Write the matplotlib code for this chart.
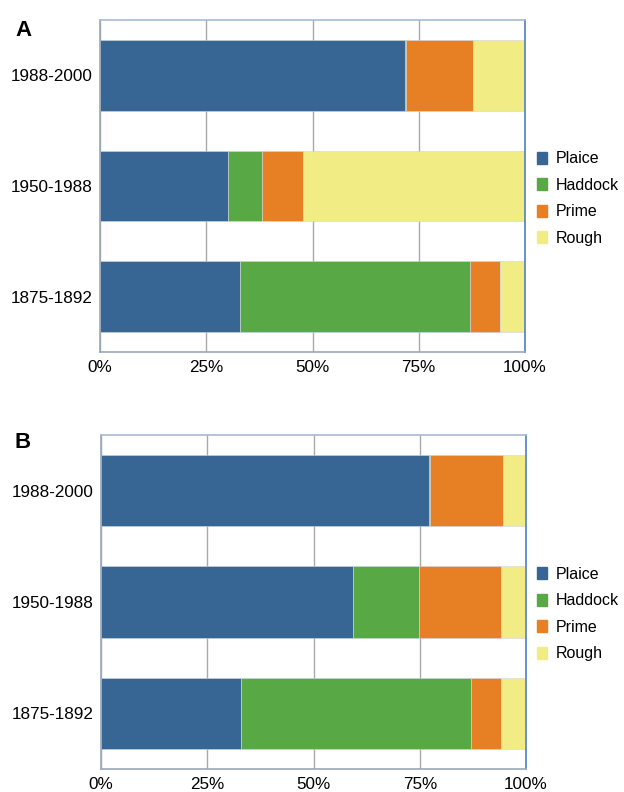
import matplotlib.pyplot as plt
import matplotlib.patches as mpatches
import numpy as np

plt.rcParams["font.family"] = ["Liberation Sans", "DejaVu Sans"]

# ── Data (percent of landings) ────────────────────────────────────────────────

periods = ["1875-1892", "1950-1988", "1988-2000"]
species = ["Plaice", "Haddock", "Prime", "Rough"]

# panel A, one list per species, ordered like `periods`
a_plaice  = [32.9, 30.0, 71.8]
a_haddock = [54.2,  8.0,  0.3]
a_prime   = [ 7.0,  9.7, 15.7]
a_rough   = [ 5.9, 52.3, 12.2]

# panel B
b_plaice  = [32.9, 59.4, 77.2]
b_haddock = [54.2, 15.5,  0.3]
b_prime   = [ 7.0, 19.2, 17.0]
b_rough   = [ 5.9,  5.9,  5.5]

COLORS = ["#376695", "#58a946", "#e77f25", "#f2ec85"]
GRID_COLOR = "#a9a9a9"
TICK_FS = 12.3


def draw_panel(ax, series):
    y = np.arange(len(periods))
    left = np.zeros(len(periods))
    for vals, col in zip(series, COLORS):
        ax.barh(y, vals, left=left, height=0.64, color=col,
                edgecolor="#d0d6de", linewidth=0.4, zorder=2)
        left += np.array(vals)

    ax.set_xlim(0, 100)
    ax.set_ylim(-0.5, 2.5)
    ax.set_yticks(y)
    ax.set_yticklabels(periods, fontsize=TICK_FS)
    ax.set_xticks([0, 25, 50, 75, 100])
    ax.set_xticklabels(["0%", "25%", "50%", "75%", "100%"], fontsize=TICK_FS)
    ax.tick_params(axis="x", length=0, pad=6)
    ax.tick_params(axis="y", length=0, pad=5)
    ax.grid(axis="x", color=GRID_COLOR, linewidth=1.0, zorder=0)
    ax.set_axisbelow(True)

    ax.spines["top"].set_color("#a7bad6")
    ax.spines["left"].set_color("#9aa8b8")
    ax.spines["bottom"].set_color("#9aa8b8")
    ax.spines["right"].set_color("#4f81c0")
    for s in ax.spines.values():
        s.set_linewidth(1.2)


fig = plt.figure(figsize=(6.24, 7.92), dpi=100)

ax_a = fig.add_axes([100 / 624, 1 - 352 / 792, 425 / 624, 332 / 792])
ax_b = fig.add_axes([101 / 624, 1 - 769 / 792, 425 / 624, 334 / 792])

draw_panel(ax_a, [a_plaice, a_haddock, a_prime, a_rough])
draw_panel(ax_b, [b_plaice, b_haddock, b_prime, b_rough])

fig.text(15 / 624, 1 - 31 / 792, "A", fontsize=16, fontweight="bold", va="center")
fig.text(15 / 624, 1 - 443 / 792, "B", fontsize=16, fontweight="bold", va="center")

handles = [mpatches.Patch(color=c, label=s) for c, s in zip(COLORS, species)]
for yc in (1 - 198.5 / 792, 1 - 614 / 792):
    fig.legend(handles=handles, loc="center left",
               bbox_to_anchor=(537 / 624, yc), frameon=False, fontsize=11.5,
               handlelength=0.6, handleheight=0.75, handletextpad=0.6,
               labelspacing=0.72, borderpad=0, borderaxespad=0)

fig.savefig("out.png", dpi=100)
